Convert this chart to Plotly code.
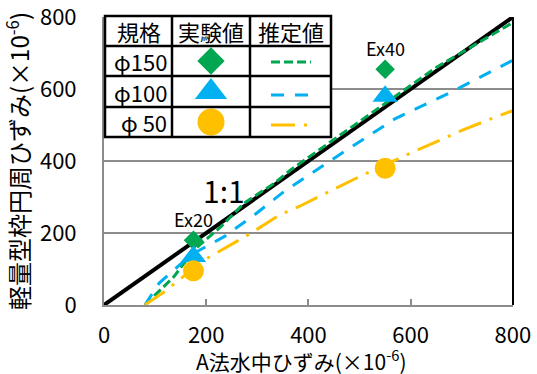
import plotly.graph_objects as go

# Measured circumferential strain vs. underwater (method A) strain, x 10^-6
exp_x = [175, 550]
exp_labels = ["Ex20", "Ex40"]
exp_150 = [180, 655]
exp_100 = [135, 580]
exp_50 = [95, 380]

# Estimated curves
est150_x = [80, 111, 137, 176, 229, 274, 333, 365, 450, 550, 650, 800]
est150_y = [0, 42, 79, 153, 218, 283, 338, 375, 460, 560, 660, 785]
est100_x = [80, 108, 170, 235, 294, 352, 460, 570, 680, 800]
est100_y = [0, 61, 139, 190, 250, 315, 417, 518, 592, 680]
est50_x = [80, 85, 118, 196, 248, 287, 343, 381, 440, 499, 592, 700, 760, 800]
est50_y = [0, 5, 37, 125, 167, 199, 250, 273, 315, 356, 417, 485, 519, 540]

one_to_one = [0, 800]
ticks = [0, 200, 400, 600, 800]

GREEN = "#00A650"
BLUE = "#00B0F0"
YELLOW = "#FFC000"
GRAY = "#8C8C8C"
FONT = "Noto Sans CJK JP"

W, H = 537, 374
L, R, T, B = 104, 513, 17, 305


def px(x):
    return (x - L) / (R - L)


def py(y):
    return (B - y) / (B - T)


fig = go.Figure()

# Legend table background (pixel-based overlay axes)
col_x = [105, 172, 250, 331]
row_y = [17, 46, 76, 107, 137]
fig.add_trace(go.Scatter(x=[col_x[0], col_x[-1], col_x[-1], col_x[0], col_x[0]],
                         y=[row_y[0], row_y[0], row_y[-1], row_y[-1], row_y[0]],
                         xaxis="x2", yaxis="y2", mode="lines", fill="toself",
                         fillcolor="white", line=dict(width=0), hoverinfo="skip"))

fig.add_trace(go.Scatter(x=one_to_one, y=one_to_one, mode="lines",
                         line=dict(color="black", width=4), hoverinfo="skip"))
fig.add_trace(go.Scatter(x=est150_x, y=est150_y, mode="lines",
                         line=dict(color=GREEN, width=3, dash="9px,4px")))
fig.add_trace(go.Scatter(x=est100_x, y=est100_y, mode="lines",
                         line=dict(color=BLUE, width=3, dash="13px,11px")))
fig.add_trace(go.Scatter(x=est50_x, y=est50_y, mode="lines",
                         line=dict(color=YELLOW, width=3, dash="24px,9px,3px,9px")))

fig.add_trace(go.Scatter(x=exp_x, y=exp_150, mode="markers",
                         marker=dict(symbol="diamond", size=15, color=GREEN)))
fig.add_trace(go.Scatter(x=exp_x, y=exp_100, mode="markers",
                         marker=dict(symbol="triangle-up", size=22, color=BLUE)))
fig.add_trace(go.Scatter(x=exp_x, y=exp_50, mode="markers",
                         marker=dict(symbol="circle", size=21, color=YELLOW)))

# Table grid lines
shapes = [dict(type="rect", xref="paper", yref="paper",
               x0=px(col_x[0]), x1=px(col_x[-1]), y0=py(row_y[-1]), y1=py(16),
               line=dict(color="black", width=2.5), layer="above")]
for cx in col_x[1:-1]:
    shapes.append(dict(type="line", xref="paper", yref="paper",
                       x0=px(cx), x1=px(cx), y0=py(row_y[-1]), y1=py(16),
                       line=dict(color="black", width=2.5), layer="above"))
for ry in row_y[1:-1]:
    shapes.append(dict(type="line", xref="paper", yref="paper",
                       x0=px(col_x[0]), x1=px(col_x[-1]), y0=py(ry), y1=py(ry),
                       line=dict(color="black", width=2.5), layer="above"))
# right frame edge
shapes.append(dict(type="line", xref="paper", yref="paper", x0=1, x1=1, y0=0, y1=1,
                   line=dict(color="black", width=2), layer="above"))

headers = ["規格", "実験値", "推定値"]
sizes = ["φ150", "φ100", "φ 50"]
annotations = []
for i, h in enumerate(headers):
    annotations.append(dict(xref="paper", yref="paper",
                            x=px((col_x[i] + col_x[i + 1]) / 2), y=py(31),
                            xanchor="center", yanchor="middle",
                            text=h, showarrow=False,
                            font=dict(size=22, color="black", family=FONT)))
for j, s in enumerate(sizes):
    annotations.append(dict(xref="paper", yref="paper", x=px(169),
                            y=py((row_y[j + 1] + row_y[j + 2]) / 2),
                            xanchor="right", yanchor="middle", text=s, showarrow=False,
                            font=dict(size=22, color="black", family=FONT)))

sw_x = (col_x[1] + col_x[2]) / 2
sw_rows = [61, 92, 122]
sw_styles = [("diamond", 21, GREEN), ("triangle-up", 28, BLUE), ("circle", 27, YELLOW)]
for (sym, sz, col), yy in zip(sw_styles, sw_rows):
    fig.add_trace(go.Scatter(x=[sw_x], y=[yy], xaxis="x2", yaxis="y2", mode="markers",
                             cliponaxis=False,
                             marker=dict(symbol=sym, size=sz, color=col)))
line_styles = [(GREEN, "9px,4px"), (BLUE, "13px,11px"), (YELLOW, "24px,9px,3px,9px")]
for (col, dash), yy in zip(line_styles, [62, 95, 125]):
    fig.add_trace(go.Scatter(x=[271, 311], y=[yy, yy], xaxis="x2", yaxis="y2",
                             mode="lines", cliponaxis=False,
                             line=dict(color=col, width=3, dash=dash)))

# Point and reference labels
annotations.append(dict(x=235, y=319, text="1:1", showarrow=False,
                        font=dict(size=30, color="black", family=FONT)))
for xx, yy, lab in zip(exp_x, exp_150, exp_labels):
    annotations.append(dict(x=xx, y=yy, text=lab, showarrow=False, yshift=21,
                            font=dict(size=18, color="black", family=FONT)))

# x-axis title
annotations.append(dict(xref="paper", yref="paper", x=px(301), y=py(360),
                        xanchor="center", yanchor="middle", showarrow=False,
                        text="A法水中ひずみ(×10<sup>-6</sup>)",
                        font=dict(size=21, color="black", family=FONT)))

fig.update_layout(
    width=W, height=H,
    margin=dict(l=L, r=W - R, t=T, b=H - B),
    paper_bgcolor="white", plot_bgcolor="white",
    showlegend=False,
    font=dict(family=FONT, color="black"),
    shapes=shapes,
    annotations=annotations,
    xaxis=dict(range=[0, 800.2], tickvals=ticks, showgrid=False, zeroline=False,
               automargin=False, ticklabeloverflow="allow",
               showline=True, linecolor=GRAY, linewidth=2,
               ticks="inside", ticklen=6, tickcolor=GRAY, tickwidth=2,
               tickfont=dict(size=22, family=FONT), ticklabelstandoff=10),
    yaxis=dict(range=[0, 800.2], tickvals=ticks, showgrid=True, gridcolor=GRAY, gridwidth=2,
               zeroline=False, showline=True, linecolor=GRAY, linewidth=2,
               automargin=False, ticklabeloverflow="allow",
               ticks="", tickfont=dict(size=22, family=FONT), ticklabelstandoff=21,
               title=dict(text="軽量型枠円周ひずみ(×10<sup>-6</sup>)", standoff=6,
                          font=dict(size=24, family=FONT))),
    xaxis2=dict(range=[L, R], overlaying="x", visible=False, fixedrange=True),
    yaxis2=dict(range=[B, T], overlaying="y", visible=False, fixedrange=True),
)

fig.write_html("out.html")
